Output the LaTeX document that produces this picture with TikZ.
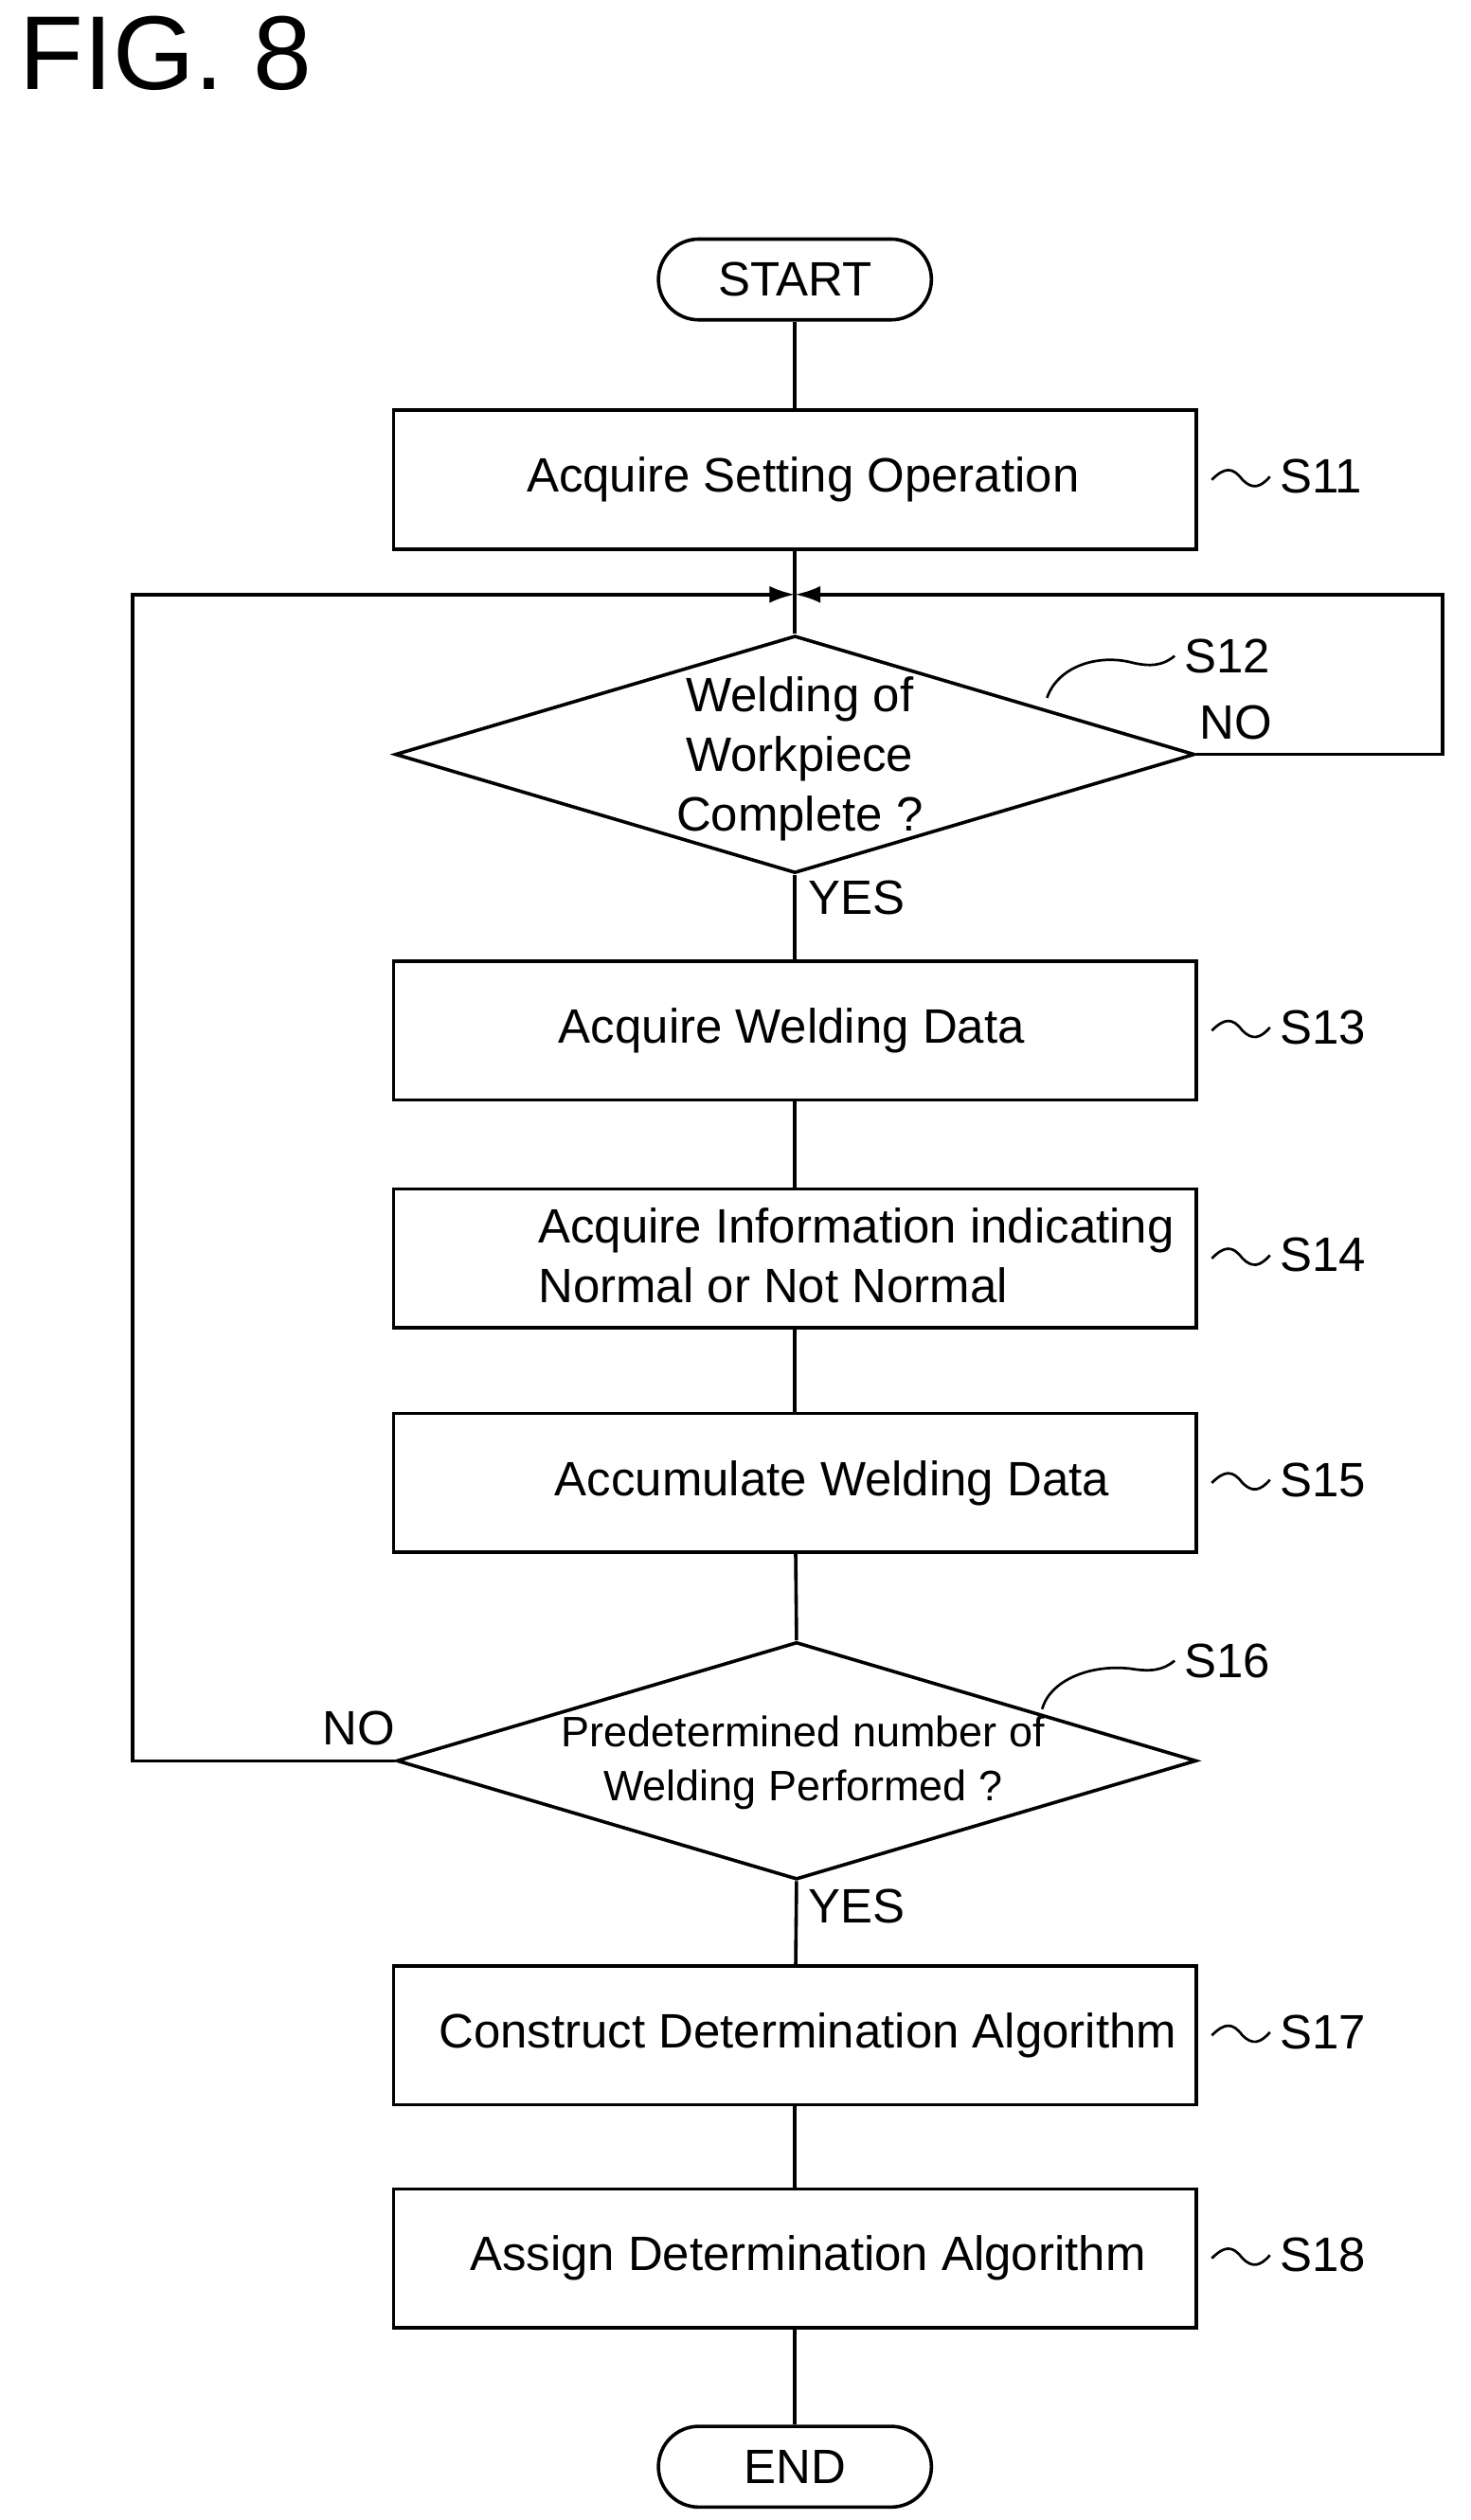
\documentclass[tikz,border=0pt]{standalone}
\usepackage{fontspec}
\setmainfont{Liberation Sans}
\usetikzlibrary{shapes.geometric,arrows.meta}
\begin{document}
\begin{tikzpicture}[x=0.02cm,y=-0.02cm,
  box/.style={draw,line width=1.2pt,minimum width=9.94cm,minimum height=1.72cm,inner sep=0pt},
  term/.style={draw,line width=1.2pt,rounded corners=0.5cm,minimum width=3.38cm,minimum height=1cm,font=\fontsize{17}{21}\selectfont},
  dia/.style={draw,line width=1.2pt,diamond,aspect=3.36,minimum width=9.9cm,minimum height=2.94cm,inner sep=0pt},
  lab/.style={font=\fontsize{17}{21}\selectfont},
  ln/.style={line width=1.2pt},
  arr/.style={line width=1.2pt,-{Latex[length=9pt,width=6pt]}},
  tl/.style={line width=0.9pt}]
\useasboundingbox (0,0) rectangle (910,1560);
\node[anchor=north west,font=\fontsize{37}{40}\selectfont] (fig) at (6,4) {FIG. 8};
\node[term] (start) at (492,173) {START};
\node[box] (s11) at (492,297) {};
\node[lab] (t11) at (497,297) {Acquire Setting Operation};
\coordinate (m) at (492,368);
\node[dia] (d12) at (492,467) {};
\node[lab,align=center] (t12) at (495,470) {Welding of\\Workpiece\\Complete ?};
\node[box] (s13) at (492,638) {};
\node[lab] (t13) at (490,638) {Acquire Welding Data};
\node[box] (s14) at (492,779) {};
\node[lab,align=left] (t14) at (530,777) {Acquire Information indicating\\Normal or Not Normal};
\node[box] (s15) at (492,918) {};
\node[lab] (t15) at (515,918) {Accumulate Welding Data};
\node[dia] (d16) at (493,1090) {};
\node[align=center,font=\fontsize{15}{19}\selectfont] (t16) at (497,1091) {Predetermined number of\\Welding Performed ?};
\node[box] (s17) at (492,1260) {};
\node[lab] (t17) at (500,1260) {Construct Determination Algorithm};
\node[box] (s18) at (492,1398) {};
\node[lab] (t18) at (500,1398) {Assign Determination Algorithm};
\node[term] (end) at (492,1527) {END};
\draw[ln] (start) -- (s11);
\draw[ln] (s11) -- (m) -- (d12.north);
\draw[ln] (d12.south) -- (s13);
\draw[ln] (s13) -- (s14);
\draw[ln] (s14) -- (s15);
\draw[ln] (s15) -- (d16.north);
\draw[ln] (d16.south) -- (s17);
\draw[ln] (s17) -- (s18);
\draw[ln] (s18) -- (end);
\coordinate (r1) at (893,467); \coordinate (r2) at (893,368);
\coordinate (l1) at (82,1090); \coordinate (l2) at (82,368);
\draw[ln] (d12.east) -- (r1) -- (r2) -- (500,368);
\draw[arr] (510,368) -- (m);
\draw[ln] (d16.west) -- (l1) -- (l2) -- (484,368);
\draw[arr] (474,368) -- (m);
\node[lab] (no1) at (765,447) {NO};
\node[lab] (yes1) at (530,556) {YES};
\node[lab] (no2) at (222,1070) {NO};
\node[lab] (yes2) at (530,1180) {YES};
\foreach \n/\y in {11/297,13/638,14/779,15/918,17/1260,18/1398}{
  \node[lab,anchor=west] (l\n) at (786,\y-2) {S\n};
  \draw[tl] (750,\y) .. controls (758,\y-8) and (763,\y-8) .. (769,\y) .. controls (775,\y+6) and (780,\y+5) .. (l\n.west);
}
\node[lab,anchor=west] (l12) at (727,406) {S12};
\draw[tl] (648,432) .. controls (655,412) and (680,405) .. (700,410) .. controls (712,413) and (720,412) .. (l12.west);
\node[lab,anchor=west] (l16) at (727,1028) {S16};
\draw[tl] (645,1058) .. controls (650,1040) and (675,1030) .. (700,1033) .. controls (712,1035) and (720,1034) .. (l16.west);
\end{tikzpicture}
\end{document}
